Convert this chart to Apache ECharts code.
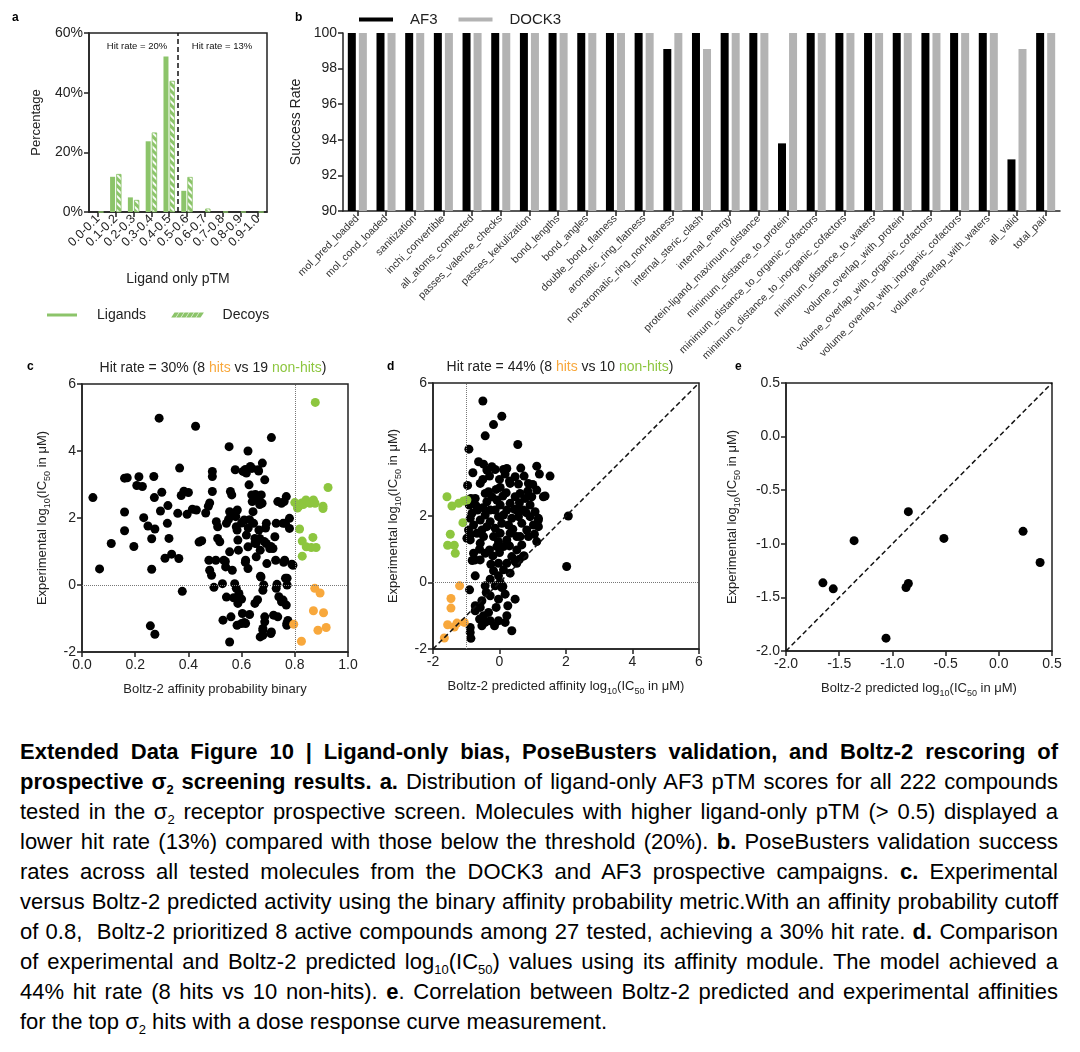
<!DOCTYPE html>
<html><head><meta charset="utf-8">
<script src="https://cdn.jsdelivr.net/npm/echarts@6/dist/echarts.min.js"></script>
<style>
html,body{margin:0;padding:0;background:#fff;}
#chart{position:absolute;left:0;top:0;width:1080px;height:725px;}
#cap{position:absolute;left:20px;top:737px;width:1038px;font-family:'Liberation Sans',Arial,Helvetica,sans-serif;font-size:22px;line-height:30px;color:#000;}
#cap div{white-space:nowrap;height:30px;}
#cap .s{font-size:13px;position:relative;top:5px;line-height:0;}
</style></head><body>
<div id="chart"></div>
<div id="cap">
<div class="j"><span><b>Extended Data Figure 10 | Ligand-only bias, PoseBusters validation, and Boltz-2 rescoring of</b></span></div>
<div class="j"><span><b>prospective σ<span class="s">2</span> screening results. a.</b> Distribution of ligand-only AF3 pTM scores for all 222 compounds</span></div>
<div class="j"><span>tested in the σ<span class="s">2</span> receptor prospective screen. Molecules with higher ligand-only pTM (&gt; 0.5) displayed a</span></div>
<div class="j"><span>lower hit rate (13%) compared with those below the threshold (20%). <b>b.</b> PoseBusters validation success</span></div>
<div class="j"><span>rates across all tested molecules from the DOCK3 and AF3 prospective campaigns. <b>c.</b> Experimental</span></div>
<div class="j"><span>versus Boltz-2 predicted activity using the binary affinity probability metric.With an affinity probability cutoff</span></div>
<div class="j"><span>of 0.8,&nbsp; Boltz-2 prioritized 8 active compounds among 27 tested, achieving a 30% hit rate. <b>d.</b> Comparison</span></div>
<div class="j"><span>of experimental and Boltz-2 predicted log<span class="s">10</span>(IC<span class="s">50</span>) values using its affinity module. The model achieved a</span></div>
<div class="j"><span>44% hit rate (8 hits vs 10 non-hits). <b>e</b>. Correlation between Boltz-2 predicted and experimental affinities</span></div>
<div><span>for the top σ<span class="s">2</span> hits with a dose response curve measurement.</span></div>
</div>
<script>
// ---------- Panel a data ----------
const pTMBins = ['0.0-0.1','0.1-0.2','0.2-0.3','0.3-0.4','0.4-0.5','0.5-0.6','0.6-0.7','0.7-0.8','0.8-0.9','0.9-1.0'];
const ligandPct = [0, 11.8, 4.9, 23.7, 52.1, 7.1, 0, 0, 0, 0];
const decoyPct  = [0, 12.7, 4.0, 26.6, 43.9, 11.7, 1.1, 0, 0, 0];
const pTMThreshold = 0.5;
const pctTicks = [0, 20, 40, 60];
const hitRateBelow = 'Hit rate = 20%';
const hitRateAbove = 'Hit rate = 13%';

// ---------- Panel b data ----------
const checks = ['mol_pred_loaded','mol_cond_loaded','sanitization','inchi_convertible','all_atoms_connected','passes_valence_checks','passes_kekulization','bond_lengths','bond_angles','double_bond_flatness','aromatic_ring_flatness','non-aromatic_ring_non-flatness','internal_steric_clash','internal_energy','protein-ligand_maximum_distance','minimum_distance_to_protein','minimum_distance_to_organic_cofactors','minimum_distance_to_inorganic_cofactors','minimum_distance_to_waters','volume_overlap_with_protein','volume_overlap_with_organic_cofactors','volume_overlap_with_inorganic_cofactors','volume_overlap_with_waters','all_valid','total_pair'];
const af3Rate   = [100,100,100,100,100,100,100,100,100,100,100,99.1,100,100,100,93.8,100,100,100,100,100,100,100,92.9,100];
const dock3Rate = [100,100,100,100,100,100,100,100,100,100,100,100,99.1,100,100,100,100,100,100,100,100,100,100,99.1,100];

// ---------- Panel c data: [affinity probability, experimental log10 IC50] ----------
const cProbCutoff = 0.8;
const cOthers = [[0.041,2.61],[0.066,0.48],[0.11,1.24],[0.16,3.19],[0.17,3.2],[0.16,2.18],[0.16,1.62],[0.195,1.15],[0.214,3.23],[0.206,2.97],[0.227,2.94],[0.232,2.01],[0.248,1.76],[0.27,3.24],[0.272,2.61],[0.262,1.38],[0.274,1.67],[0.262,0.47],[0.29,4.98],[0.30,2.77],[0.295,2.21],[0.323,2.37],[0.321,1.84],[0.327,1.39],[0.312,0.80],[0.337,0.92],[0.364,0.79],[0.367,3.49],[0.36,2.14],[0.373,2.67],[0.383,2.80],[0.40,2.76],[0.395,2.11],[0.415,2.26],[0.427,4.74],[0.43,2.24],[0.44,1.28],[0.45,1.32],[0.377,-0.19],[0.257,-1.22],[0.274,-1.47],
[0.465,2.15],[0.475,2.35],[0.48,2.45],[0.49,3.39],[0.49,3.24],[0.49,2.79],[0.48,0.44],[0.487,0.29],[0.477,0.74],[0.496,-0.07],[0.505,1.89],[0.51,1.74],[0.503,0.74],[0.51,1.39],[0.518,1.29],[0.528,0.04],[0.533,0.74],[0.54,0.54],[0.543,-0.36],[0.53,-1.05],[0.553,4.13],[0.558,2.79],[0.563,2.69],[0.555,2.19],[0.56,2.07],[0.543,1.84],[0.555,0.99],[0.565,0.44],[0.576,3.44],[0.584,2.24],[0.578,2.04],[0.58,1.74],[0.583,1.64],[0.586,1.34],[0.588,1.04],[0.574,0.04],[0.58,-0.10],[0.59,-0.25],[0.586,-0.55],[0.583,-1.2],[0.555,-1.7],[0.603,-0.85],[0.615,-1.15],[0.605,3.39],[0.618,3.34],[0.624,4.0],[0.628,2.99],[0.633,3.54],[0.638,2.69],[0.64,2.49],[0.643,2.19],[0.61,1.94],[0.618,1.49],[0.624,1.14],[0.615,0.74],[0.624,0.49],[0.645,1.84],[0.65,1.39],[0.654,1.24],[0.655,0.84],[0.65,-0.55],[0.662,3.44],[0.665,1.64],[0.668,1.39],[0.67,1.04],[0.673,0.24],[0.674,2.69],[0.677,2.44],[0.678,3.64],[0.68,-0.16],[0.68,-1.3],[0.68,-1.5],[0.687,3.14],[0.687,-0.95],[0.687,-1.1],[0.693,1.84],[0.693,1.24],[0.695,0.64],[0.706,1.09],[0.712,4.4],[0.712,-1.4],[0.718,1.09],[0.725,1.44],[0.728,0.74],[0.73,1.84],[0.736,2.49],[0.73,-0.1],[0.736,-0.95],[0.75,2.44],[0.756,1.84],[0.756,-0.45],[0.762,0.74],[0.765,0.2],[0.76,2.49],[0.768,2.64],[0.768,-0.6],[0.774,-1.06],[0.77,-1.2],[0.78,1.99],[0.78,1.69],[0.793,0.59],[0.765,1.84],
[0.614,3.45],[0.639,3.48],[0.664,3.4],[0.652,2.7],[0.66,2.55],[0.668,2.4],[0.551,1.96],[0.576,2.16],[0.6,1.85],[0.63,1.95],[0.625,1.7],[0.69,1.7],[0.65,1.25],[0.71,1.15],[0.685,1.3],[0.539,0.7],[0.614,0.68],[0.758,0.68],[0.789,0.62],[0.671,0.26],[0.771,0.2],[0.683,0.0],[0.733,0.02],[0.771,0.0],[0.57,-0.38],[0.6,-0.42],[0.66,-0.44],[0.74,-0.35],[0.75,-0.5],[0.56,-0.95],[0.63,-0.88],[0.72,-0.9],[0.77,-1.15],[0.6,-1.15],[0.61,-1.12],[0.68,-1.35],[0.71,-1.45],[0.67,-1.55]];
const cNonHits = [[0.877,5.45],[0.925,2.91],[0.80,2.46],[0.81,2.30],[0.815,2.34],[0.826,2.45],[0.832,2.40],[0.842,2.54],[0.857,2.44],[0.87,2.54],[0.876,2.44],[0.906,2.35],[0.906,2.28],[0.818,1.67],[0.828,1.31],[0.843,1.14],[0.862,1.12],[0.868,1.42],[0.88,1.12],[0.828,0.86]];
const cHits = [[0.875,-0.10],[0.895,-0.24],[0.87,-0.77],[0.908,-0.83],[0.796,-1.17],[0.887,-1.35],[0.918,-1.27],[0.825,-1.68]];

// ---------- Panel d data: [predicted log10 IC50, experimental log10 IC50] ----------
const dPredCutoff = -1;
const dOthers = [[-0.5,5.46],[0.07,5.0],[-0.18,4.75],[-0.43,4.41],[0.55,4.15],[-0.92,4.01],[-0.96,2.92],[-0.63,3.63],[-0.48,3.56],[-0.38,3.38],[-0.23,3.48],[-0.13,3.4],[0.12,3.4],[0.22,3.43],[0.17,3.26],[0.47,3.18],[0.64,3.44],[0.74,3.2],[0.87,2.98],[1.12,3.5],[1.2,3.26],[1.52,3.2],[0.57,2.96],[0.32,2.98],[0.02,2.86],[-0.33,2.73],[-0.43,2.68],[-0.73,2.53],[-0.76,2.38],[-0.66,2.18],[-0.83,2.08],[-0.78,1.73],[-0.88,1.43],[-0.88,1.28],[-0.98,1.33],[-0.78,0.88],[-0.73,0.68],[-0.82,0.66],[-0.58,0.68],[-0.43,0.88],[-0.3,0.98],[-0.58,1.18],[-0.48,1.38],[-0.53,1.58],[-0.38,1.68],[-0.28,1.83],[-0.43,2.03],[-0.28,2.18],[-0.38,2.43],[-0.23,2.58],[-0.08,2.48],[0.02,2.33],[-0.13,2.18],[-0.03,1.98],[0.12,2.03],[0.07,1.78],[-0.13,1.63],[0.02,1.48],[-0.18,1.38],[-0.03,1.23],[0.12,1.08],[0.22,1.28],[0.32,1.48],[0.27,1.73],[0.37,1.93],[0.22,2.18],[0.32,2.38],[0.47,2.58],[0.62,2.68],[0.77,2.53],[0.92,2.33],[1.07,2.13],[1.17,1.93],[1.02,1.73],[0.82,1.58],[0.67,1.78],[0.57,1.98],[0.52,1.38],[0.67,1.13],[0.52,0.98],[0.37,0.78],[0.47,0.63],[0.72,0.8],[0.22,0.58],[0.12,0.38],[-0.03,0.2],[-0.18,0.35],[-0.26,0.55],[0.02,0.0],[0.07,-0.15],[0.17,-0.35],[-0.13,-0.1],[-0.28,0.1],[-0.43,-0.1],[-0.28,-0.4],[-0.03,-0.5],[-0.53,-0.55],[-0.58,-0.75],[-0.73,-0.85],[-0.73,-0.7],[-0.48,-1.0],[-0.33,-0.9],[-0.28,-1.15],[-0.43,-1.2],[-0.03,-1.15],[0.17,-1.2],[0.22,-1.0],[0.47,-0.5],[0.37,-1.45],[-0.53,-1.3],[-0.88,-1.35],[-0.88,-1.5],[-0.86,-1.68],[-0.9,-0.22],[-0.73,0.2],[-0.91,2.33],[-0.58,2.98],[-0.86,2.53],[1.32,2.58],[1.37,2.6],[1.12,2.78],[1.17,1.88],[1.17,1.68],[1.12,1.23],[0.74,0.8],[2.07,2.0],[2.02,0.48],[0.1,-0.12],[-0.03,0.58],[-0.08,1.08],[-0.68,1.48],[-0.58,1.88],[-0.88,1.93],[-0.93,1.58],[0.52,2.18],[0.72,2.18],[0.92,1.98],[0.62,1.38],[0.87,1.38],[0.97,2.58],[0.52,0.58],[0.32,0.28],
[-0.7,2.3],[-0.5,2.25],[-0.6,1.0],[-0.2,0.8],[0.0,0.9],[0.3,1.1],[0.4,1.6],[0.1,2.6],[-0.1,2.8],[0.2,2.7],[0.45,2.2],[0.6,2.4],[0.85,2.75],[1.0,2.95],[0.3,3.05],[-0.5,3.1],[-0.8,3.3],[-0.3,3.2],[0.0,3.1],[0.8,2.1],[1.05,1.45],[0.6,0.7],[-0.4,-0.3],[-0.1,-0.75],[0.25,-0.7],[-0.6,-1.1],[-0.15,-1.3]];
const dNonHits = [[-1.58,2.58],[-1.43,2.30],[-1.23,2.38],[-1.08,2.45],[-0.98,2.48],[-1.10,1.80],[-1.48,1.45],[-1.56,1.12],[-1.36,1.12],[-1.33,0.88]];
const dHits = [[-1.20,-0.10],[-1.46,-0.48],[-1.46,-0.77],[-1.56,-1.27],[-1.36,-1.34],[-1.06,-1.20],[-1.66,-1.67],[-1.28,-1.22]];

// ---------- Panel e data ----------
const eHits = [[-1.653,-1.364],[-1.556,-1.42],[-1.36,-0.971],[-1.06,-1.88],[-0.872,-1.408],[-0.85,-1.37],[-0.85,-0.70],[-0.516,-0.95],[0.228,-0.884],[0.388,-1.174]];

// ---------- styling ----------
const FONT = "'Liberation Sans', Arial, Helvetica, sans-serif";
const AX = '#222';
const GREEN_BAR = '#8cc46a';
const GREEN = '#8dc63f';
const ORANGE = '#f8a83c';
const SUBRICH = {s:{fontSize:9, fontFamily:FONT, color:'#222', verticalAlign:'bottom', padding:[10,0,0,0]}};

function axisBase(extra){
  return Object.assign({
    axisLine:{show:true,onZero:false,lineStyle:{color:AX,width:1.5}},
    axisTick:{show:true,length:5,lineStyle:{color:AX,width:1.5}},
    splitLine:{show:false},
    nameLocation:'middle',
    nameTextStyle:{fontSize:13,color:'#222',fontFamily:FONT,rich:SUBRICH}
  }, extra);
}
function numAxis(gi, min, max, interval, digits, name, nameGap){
  return axisBase({type:'value', gridIndex:gi, min, max, interval, name, nameGap,
    axisLabel:{fontSize:14,color:'#222',fontFamily:FONT,margin:6,formatter:v=>digits?v.toFixed(digits):String(v)}});
}
const gridBox = {show:true,borderColor:AX,borderWidth:1.5,backgroundColor:'transparent',outerBoundsMode:'none',containLabel:false};

let dashPath = 'path://';
for(let i=0;i<6;i++){const x=i*5; dashPath += `M${x},3L${x+2},0L${x+4},0L${x+2},3Z`;}

const scatterStyle = (color)=>({type:'scatter', symbolSize:9, itemStyle:{color, opacity:1}, emphasis:{disabled:true}, silent:true});
const ml = (data)=>({silent:true, symbol:['none','none'], label:{show:false}, animation:false, data});
const dotted = {type:'dotted', color:'#777', width:1};
const dashed = {type:[5,3], color:'#111', width:1.5};

const option = {
  animation:false,
  backgroundColor:'#fff',
  textStyle:{fontFamily:FONT},
  grid:[
    Object.assign({left:89, top:33, width:178, height:179}, gridBox),
    {left:343, top:33, width:717, height:178, show:false, outerBoundsMode:'none', containLabel:false},
    Object.assign({left:82, top:384, width:266, height:268}, gridBox),
    Object.assign({left:433, top:383, width:266, height:266}, gridBox),
    Object.assign({left:786, top:383, width:266, height:268}, gridBox)
  ],
  legend:[
    {data:[{name:'Ligands',icon:'rect'},{name:'Decoys',icon:dashPath,itemStyle:{decal:'none'}}],
     left:47, top:308, padding:0, itemWidth:30, itemHeight:3, itemGap:26, selectedMode:false,
     textStyle:{fontSize:14,color:'#222',fontFamily:FONT,padding:[0,0,0,15]}},
    {data:['AF3','DOCK3'], left:359, top:12, padding:0, icon:'rect', itemWidth:34, itemHeight:4, itemGap:21, selectedMode:false,
     textStyle:{fontSize:15,color:'#222',fontFamily:FONT,padding:[0,0,0,12]}}
  ],
  xAxis:[
    axisBase({type:'category', gridIndex:0, data:pTMBins, name:'Ligand only pTM', nameGap:60,
      nameTextStyle:{fontSize:14,color:'#222',fontFamily:FONT},
      axisTick:{show:true,alignWithLabel:true,length:5,lineStyle:{color:AX,width:1.5}},
      axisLabel:{rotate:45, interval:0, fontSize:12.5, color:'#222', fontFamily:FONT, margin:5}}),
    {type:'value', gridIndex:0, min:0, max:1, show:false},
    axisBase({type:'category', gridIndex:1, data:checks,
      axisTick:{show:true,alignWithLabel:true,length:5,lineStyle:{color:AX,width:1.5}},
      axisLabel:{rotate:45, interval:0, fontSize:10.5, color:'#333', fontFamily:FONT, margin:6}}),
    numAxis(2, 0, 1, 0.2, 1, 'Boltz-2 affinity probability binary', 31),
    numAxis(3, -2, 6, 2, 0, 'Boltz-2 predicted affinity log{s|10}(IC{s|50} in μM)', 28),
    numAxis(4, -2, 0.5, 0.5, 1, 'Boltz-2 predicted log{s|10}(IC{s|50} in μM)', 28)
  ],
  yAxis:[
    axisBase({type:'value', gridIndex:0, min:pctTicks[0], max:pctTicks[pctTicks.length-1], interval:20, name:'Percentage', nameGap:46,
      axisLabel:{fontSize:14,color:'#222',fontFamily:FONT,margin:6,formatter:'{value}%'}}),
    axisBase({type:'value', gridIndex:1, min:90, max:100, interval:2, name:'Success Rate', nameGap:40,
      nameTextStyle:{fontSize:14,color:'#222',fontFamily:FONT},
      axisLabel:{fontSize:14,color:'#222',fontFamily:FONT,margin:6}}),
    numAxis(2, -2, 6, 2, 0, 'Experimental log{s|10}(IC{s|50} in μM)', 30),
    numAxis(3, -2, 6, 2, 0, 'Experimental log{s|10}(IC{s|50} in μM)', 30),
    numAxis(4, -2, 0.5, 0.5, 1, 'Experimental log{s|10}(IC{s|50} in μM)', 44)
  ],
  series:[
    {name:'Ligands', type:'bar', xAxisIndex:0, yAxisIndex:0, data:ligandPct, barWidth:5, barGap:'25%', itemStyle:{color:GREEN_BAR}, silent:true},
    {name:'Decoys', type:'bar', xAxisIndex:0, yAxisIndex:0, data:decoyPct, barWidth:5, silent:true,
      itemStyle:{color:GREEN_BAR, borderColor:GREEN_BAR, borderWidth:0.6,
        decal:{symbol:'rect', color:'rgba(255,255,255,0.95)', dashArrayX:[1,0], dashArrayY:[2,2.5], rotation:Math.PI/4}}},
    {name:'threshold', type:'line', xAxisIndex:1, yAxisIndex:0, silent:true, symbol:'none',
      data:[[pTMThreshold, pctTicks[0]],[pTMThreshold, pctTicks[pctTicks.length-1]]], lineStyle:dashed},
    {name:'AF3', type:'bar', xAxisIndex:2, yAxisIndex:1, data:af3Rate, barWidth:8, barGap:'38%', clip:true, itemStyle:{color:'#000'}, silent:true},
    {name:'DOCK3', type:'bar', xAxisIndex:2, yAxisIndex:1, data:dock3Rate, barWidth:8, clip:true, itemStyle:{color:'#b3b3b3'}, silent:true},
    Object.assign(scatterStyle('#000'), {xAxisIndex:3, yAxisIndex:2, data:cOthers, z:3,
      markLine:Object.assign(ml([{xAxis:cProbCutoff},{yAxis:0}]),{lineStyle:dotted})}),
    Object.assign(scatterStyle(GREEN), {xAxisIndex:3, yAxisIndex:2, data:cNonHits, z:3}),
    Object.assign(scatterStyle(ORANGE), {xAxisIndex:3, yAxisIndex:2, data:cHits, z:3}),
    Object.assign(scatterStyle('#000'), {xAxisIndex:4, yAxisIndex:3, data:dOthers, z:3,
      markLine:Object.assign(ml([{xAxis:dPredCutoff},{yAxis:0}]),{lineStyle:dotted})}),
    Object.assign(scatterStyle(GREEN), {xAxisIndex:4, yAxisIndex:3, data:dNonHits, z:3}),
    Object.assign(scatterStyle(ORANGE), {xAxisIndex:4, yAxisIndex:3, data:dHits, z:3,
      markLine:Object.assign(ml([[{coord:[-2,-2]},{coord:[6,6]}]]),{lineStyle:dashed})}),
    Object.assign(scatterStyle('#000'), {xAxisIndex:5, yAxisIndex:4, data:eHits, z:3,
      markLine:Object.assign(ml([[{coord:[-2,-2]},{coord:[0.5,0.5]}]]),{lineStyle:dashed})})
  ],
  graphic:[
    {type:'text', left:12, top:12, style:{text:'a', fontSize:12, fontWeight:'bold', fontFamily:FONT, fill:'#000'}},
    {type:'text', left:295, top:12, style:{text:'b', fontSize:12, fontWeight:'bold', fontFamily:FONT, fill:'#000'}},
    {type:'text', left:27, top:361, style:{text:'c', fontSize:12, fontWeight:'bold', fontFamily:FONT, fill:'#000'}},
    {type:'text', left:387, top:361, style:{text:'d', fontSize:12, fontWeight:'bold', fontFamily:FONT, fill:'#000'}},
    {type:'text', left:735, top:361, style:{text:'e', fontSize:12, fontWeight:'bold', fontFamily:FONT, fill:'#000'}},
    {type:'text', x:137, y:46, style:{text:hitRateBelow, fontSize:9.5, fontFamily:FONT, fill:'#111', align:'center', verticalAlign:'middle'}},
    {type:'text', x:222, y:46, style:{text:hitRateAbove, fontSize:9.5, fontFamily:FONT, fill:'#111', align:'center', verticalAlign:'middle'}},
    {type:'text', x:213, y:368, style:{text:'Hit rate = 30% (8 {o|hits} vs 19 {g|non-hits})', fontSize:14, fontFamily:FONT, fill:'#222', align:'center', verticalAlign:'middle',
      rich:{o:{fill:ORANGE,fontSize:14,fontFamily:FONT},g:{fill:GREEN,fontSize:14,fontFamily:FONT}}}},
    {type:'text', x:560, y:367, style:{text:'Hit rate = 44% (8 {o|hits} vs 10 {g|non-hits})', fontSize:14, fontFamily:FONT, fill:'#222', align:'center', verticalAlign:'middle',
      rich:{o:{fill:ORANGE,fontSize:14,fontFamily:FONT},g:{fill:GREEN,fontSize:14,fontFamily:FONT}}}}
  ]
};
const chart = echarts.init(document.getElementById('chart'), null, {renderer:'canvas'});
chart.setOption(option);

// justify caption lines exactly to the column width
document.querySelectorAll('#cap div.j').forEach(d=>{
  const sp = d.firstElementChild;
  const w = sp.getBoundingClientRect().width;
  const n = (sp.textContent.match(/[ \u00a0]/g)||[]).length;
  if(n>0) sp.style.wordSpacing = ((1038 - w)/n) + 'px';
});
</script>
</body></html>
